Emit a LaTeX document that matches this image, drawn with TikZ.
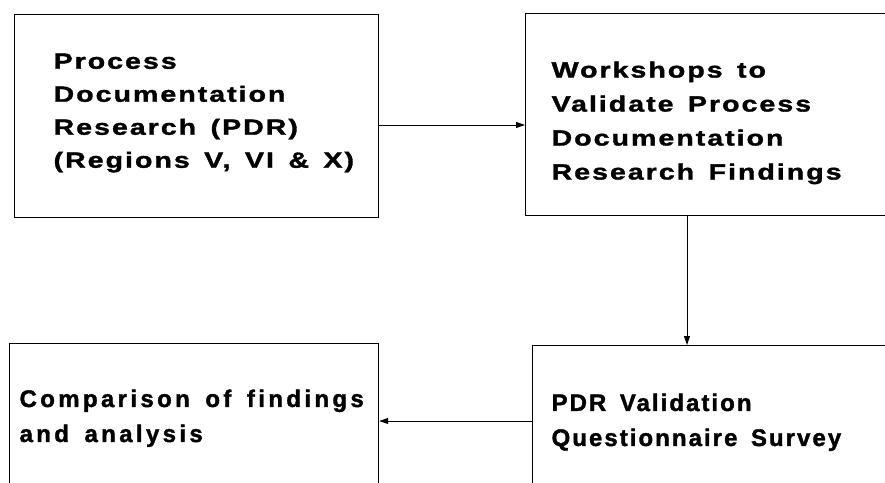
\documentclass[tikz,border=0pt]{standalone}
\usepackage{fontspec}
\setmainfont{Liberation Sans}
\newfontfamily\topfont{Liberation Sans}[FakeStretch=1.3,LetterSpace=9,WordSpace=1.45,FakeBold=1.5]
\newfontfamily\lowfont{Liberation Sans}[LetterSpace=8.5,WordSpace=1.55,FakeBold=1.5]
\newfontfamily\compfont{Liberation Sans}[LetterSpace=14,WordSpace=1.55,FakeBold=1.5]
\usetikzlibrary{arrows.meta}

\tikzset{
  stage/.style={draw, line width=1.2pt, inner ysep=0pt, anchor=north west, align=left, font=\bfseries},
  flow/.style={-{Triangle[length=9pt,width=6pt]}, line width=0.9pt}
}

\begin{document}
\begin{tikzpicture}[x=1pt,y=1pt]
            \useasboundingbox (0,0) rectangle (885,-482);
            \clip (0,0) rectangle (885,-482);

            % Upper row
            \node[stage, inner xsep=39pt] (pdr) at (14,-14) {\parbox[c][203pt][t]{286pt}{\vspace*{39pt}\topfont\bfseries\fontsize{22}{33}\selectfont
              \hbox to\hsize{Process\hss}\hbox to\hsize{Documentation\hss}\hbox to\hsize{Research (PDR)\hss}\hbox to\hsize{(Regions V, VI \& X)\hss}}};
            \node[stage, inner xsep=26pt] (wksp) at (525,-13) {\parbox[c][202pt][t]{313pt}{\vspace*{48pt}\topfont\bfseries\fontsize{22}{34}\selectfont
              \hbox to\hsize{Workshops to\hss}\hbox to\hsize{Validate Process\hss}\hbox to\hsize{Documentation\hss}\hbox to\hsize{Research Findings\hss}}};

            % Lower row
            \node[stage, inner xsep=19pt] (survey) at (532,-345) {\parbox[c][150pt][t]{320pt}{\vspace*{48pt}\lowfont\bfseries\fontsize{24}{35}\selectfont
              \hbox to\hsize{PDR Validation\hss}\hbox to\hsize{Questionnaire Survey\hss}}};
            \node[stage, inner xsep=10pt] (comp) at (9,-343) {\parbox[c][150pt][t]{349pt}{\vspace*{46pt}\compfont\bfseries\fontsize{24}{35}\selectfont
              \hbox to\hsize{Comparison of findings\hss}\hbox to\hsize{and analysis\hss}}};

            % Connectors
            \coordinate (h1) at (0,-125);
            \draw[flow] (pdr.east |- h1) -- (wksp.west |- h1);
            \coordinate (v1) at (687,0);
            \draw[flow] (wksp.south -| v1) -- (survey.north -| v1);
            \coordinate (h2) at (0,-421);
            \draw[flow] (survey.west |- h2) -- (comp.east |- h2);
\end{tikzpicture}
\end{document}
